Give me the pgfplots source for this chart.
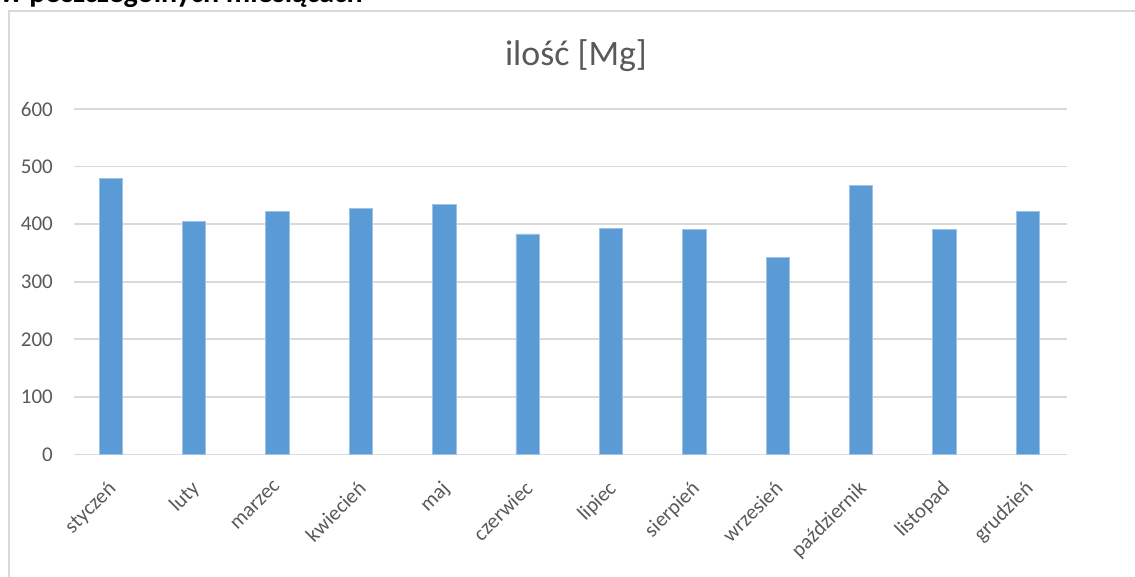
\documentclass[border=0pt]{standalone}
\usepackage{fontspec}
\setmainfont{Carlito}
\usepackage{pgfplots}
\pgfplotsset{compat=1.18}
\definecolor{barc}{HTML}{5B9BD5}
\definecolor{gridc}{HTML}{D9D9D9}
\definecolor{txt}{HTML}{595959}
\begin{document}
\begin{tikzpicture}[x=1pt,y=1pt]
\begin{axis}[
  at={(0pt,0pt)}, anchor=south west,
  scale only axis, width=993pt, height=345.5pt,
  xmin=-0.44, xmax=11.47, ymin=0, ymax=600,
  ytick={0,100,...,600},
  xtick={0,...,11},
  xticklabels={styczeń,luty,marzec,kwiecień,maj,czerwiec,lipiec,sierpień,wrzesień,październik,listopad,grudzień},
  axis line style={draw=none},
  major tick length=0pt,
  xmajorgrids=false,
  ymajorgrids, grid style={draw=gridc, line width=1.7pt},
  tick style={draw=none},
  /pgf/number format/assume math mode=true,
  yticklabel style={font=\fontsize{21}{25}\selectfont, text=txt, anchor=east, inner sep=0pt, xshift=-21pt},
  xticklabel style={font=\fontsize{21}{25}\selectfont, text=txt, xshift=-4pt, yshift=-25pt, rotate=45, anchor=north east, inner sep=0pt},
  clip=false,
]
\addplot[ybar, bar width=23.3pt, fill=barc, draw=barc!60!white, line width=0.6pt] coordinates {
(0,480) (1,405) (2,422) (3,428) (4,434) (5,383) (6,393) (7,391) (8,342) (9,467) (10,391) (11,422)};
\end{axis}
\draw[gridc, line width=1.5pt] (-65,-140) -- (-65,443.5) -- (1090,443.5);
\node[anchor=base, text=txt, font=\fontsize{35.8}{40}\selectfont, inner sep=0pt] at (502,388.5) {ilość [Mg]};
\node[anchor=base west, font=\fontsize{30}{34}\selectfont\bfseries, inner sep=0pt] at (-74,451.5) {w poszczególnych miesiącach};
\pgfresetboundingbox
\useasboundingbox (-74,-122.5) rectangle (1061,454.5);
\end{tikzpicture}
\end{document}
